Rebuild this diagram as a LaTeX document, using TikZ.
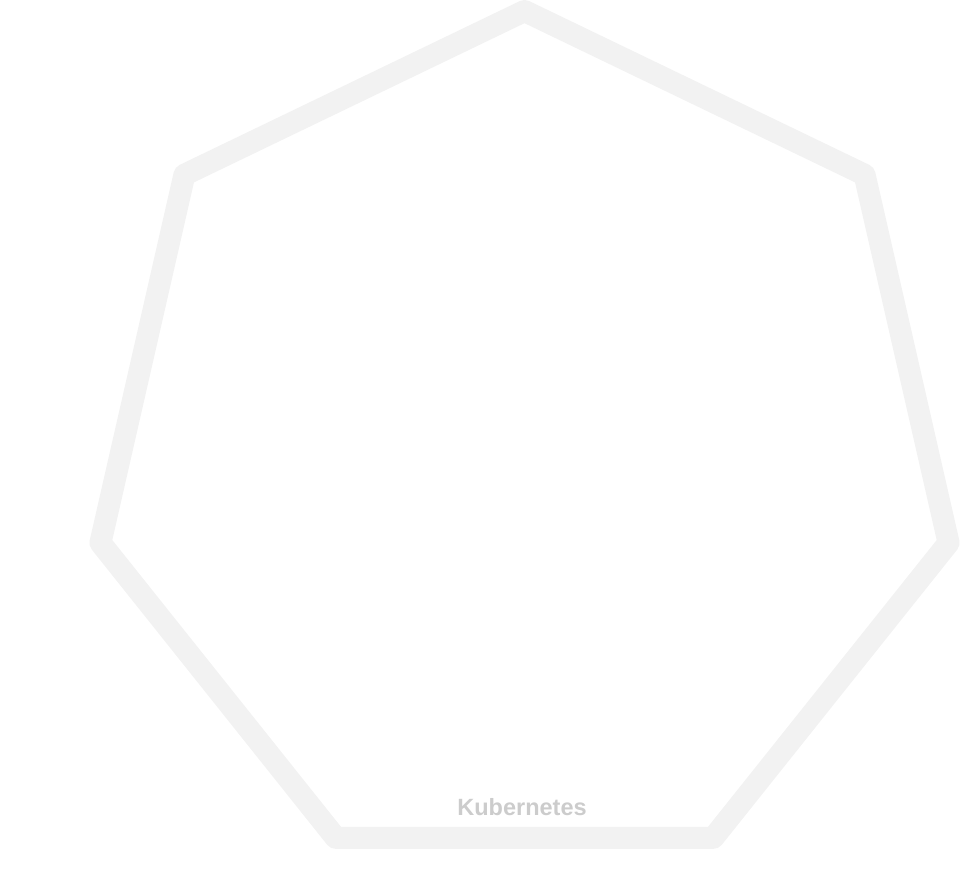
\documentclass[tikz,border=0pt]{standalone}
\usepackage{fontspec}
\setmainfont{Liberation Sans}
\definecolor{hepline}{HTML}{F2F2F2}
\definecolor{heptext}{HTML}{CCCCCC}
\tikzset{
  hepta/.style={draw=hepline, line width=22pt, line join=round},
  lbl/.style={text=heptext, font=\fontsize{23.5}{26}\selectfont\bfseries, inner sep=0pt}
}
\begin{document}
\begin{tikzpicture}[x=1pt,y=1pt]
\useasboundingbox (0,0) rectangle (979,873);
\begin{scope}[shift={(524.5,427)}]
\draw[hepta] (90:435) \foreach \k in {1,...,6}{ -- ({90+\k*360/7}:435)} -- cycle;
\end{scope}
\node[lbl] (k8s) at (522,66) {Kubernetes};
\end{tikzpicture}
\end{document}
